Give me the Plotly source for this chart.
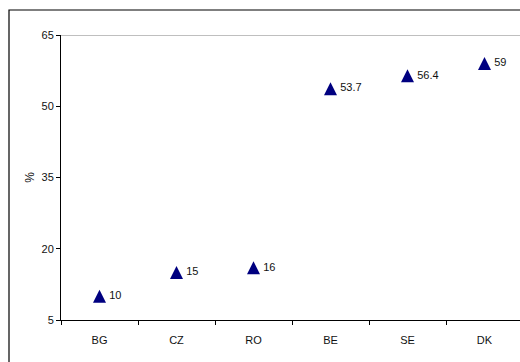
import plotly.graph_objects as go

countries = ["BG", "CZ", "RO", "BE", "SE", "DK"]
shares = [10, 15, 16, 53.7, 56.4, 59]
y_ticks = [5, 20, 35, 50, 65]

W, H = 520, 362
L, T, B = 61, 35, 42
plot_w = W - L
plot_h = H - T - B
y_min, y_max = 5, 65
font = dict(family="Liberation Sans, Arial", size=11, color="#111111")

# arrow-up markers hang below their anchor point; lift them by half their
# height (converted to axis units) so each triangle is centred on its value
tri_size = 13
px_per_unit = plot_h / (y_max - y_min)
lift = (tri_size / 2) / px_per_unit

fig = go.Figure()
fig.add_trace(go.Scatter(
    x=countries,
    y=[v + lift for v in shares],
    mode="markers",
    marker=dict(symbol="arrow-up", size=tri_size, color="#000080",
                line=dict(width=0)),
    cliponaxis=False,
    hoverinfo="skip",
))
fig.add_trace(go.Scatter(
    x=countries,
    y=shares,
    mode="markers+text",
    marker=dict(size=14, opacity=0),
    text=[f"{v:g}" for v in shares],
    textposition="middle right",
    textfont=font,
    cliponaxis=False,
    hoverinfo="skip",
))

cat_px = 77.0
fig.update_xaxes(
    type="category",
    range=[-0.5, -0.5 + plot_w / cat_px],
    showgrid=False,
    showline=True,
    linecolor="black",
    linewidth=1,
    ticks="outside",
    ticklen=4,
    tickcolor="black",
    tickson="boundaries",
    tickfont=font,
    ticklabelstandoff=10,
    zeroline=False,
)
fig.update_yaxes(
    range=[y_min, y_max],
    tickvals=y_ticks,
    showgrid=False,
    showline=True,
    linecolor="black",
    linewidth=1,
    ticks="outside",
    ticklen=4,
    tickcolor="black",
    tickfont=font,
    title=dict(text="%", standoff=4, font=dict(family="Liberation Sans, Arial", size=12, color="#111111")),
    zeroline=False,
)

# outer chart frame and the top border of the plot area
fx0 = (9 - L) / plot_w
fy1 = 1 + (T - 10) / plot_h
fig.add_shape(type="rect", xref="paper", yref="paper", x0=fx0, x1=1.05, y0=-0.3, y1=fy1,
              line=dict(color="black", width=1.2), fillcolor="rgba(0,0,0,0)", layer="below")
fig.add_shape(type="line", xref="paper", yref="y", x0=0, x1=1.05, y0=y_max, y1=y_max,
              line=dict(color="#808080", width=1))

fig.update_layout(
    width=W,
    height=H,
    margin=dict(l=L, r=0, t=T, b=B),
    paper_bgcolor="white",
    plot_bgcolor="white",
    showlegend=False,
)

fig.write_html("out.html")
